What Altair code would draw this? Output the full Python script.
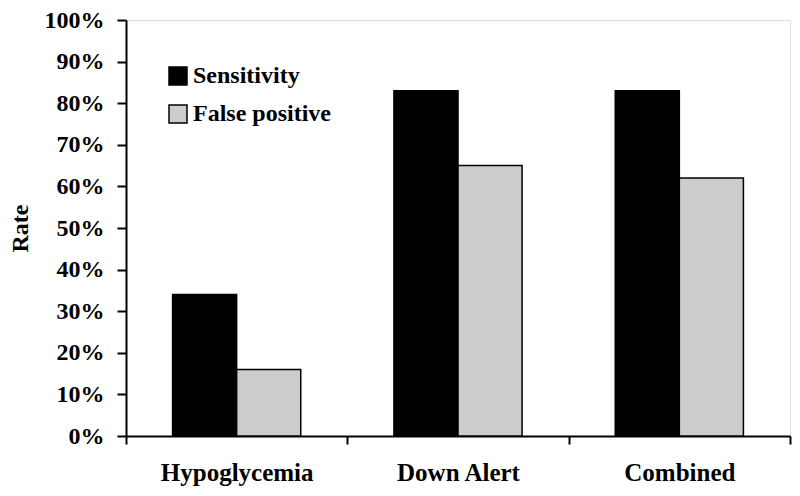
import altair as alt
import pandas as pd

categories = ["Hypoglycemia", "Down Alert", "Combined"]
series = ["Sensitivity", "False positive"]
sensitivity = [0.34, 0.83, 0.83]
false_positive = [0.16, 0.65, 0.62]

rows = []
for c, s, f in zip(categories, sensitivity, false_positive):
    rows.append({"category": c, "series": series[0], "rate": s})
    rows.append({"category": c, "series": series[1], "rate": f})
df = pd.DataFrame(rows)

FONT = "Liberation Serif"

chart = alt.Chart(df).mark_bar(stroke="black", strokeWidth=1.5).encode(
    x=alt.X("category:N", sort=categories, title=None,
            scale=alt.Scale(paddingInner=0, paddingOuter=0),
            axis=alt.Axis(labelAngle=0, tickBand="extent", tickSize=8, tickWidth=2,
                          domainWidth=2, domainColor="black", tickColor="black",
                          labelFont=FONT, labelFontWeight="bold", labelFontSize=25,
                          labelColor="black", labelPadding=16)),
    xOffset=alt.XOffset("series:N", sort=series,
                        scale=alt.Scale(paddingInner=0, paddingOuter=0.727)),
    y=alt.Y("rate:Q", title="Rate",
            scale=alt.Scale(domain=[0, 1], nice=False),
            axis=alt.Axis(format=".0%", values=[i / 10 for i in range(11)], grid=False,
                          tickSize=9, tickWidth=2, domainWidth=2, domainColor="black",
                          tickColor="black", labelFont=FONT, labelFontWeight="bold",
                          labelFontSize=24, labelColor="black", labelPadding=13,
                          titleFont=FONT, titleFontWeight="bold", titleFontSize=24,
                          titleColor="black", titleX=-94, titleY=208)),
    color=alt.Color("series:N", sort=series,
                    scale=alt.Scale(domain=series, range=["#000000", "#cccccc"]),
                    legend=alt.Legend(title=None, orient="none", legendX=40, legendY=44,
                                      symbolType="square", symbolSize=324,
                                      symbolStrokeColor="black", symbolStrokeWidth=1.5,
                                      labelFont=FONT, labelFontWeight="bold",
                                      labelFontSize=24, labelColor="black",
                                      rowPadding=14, labelOffset=3)),
).properties(
    width=664, height=416,
    autosize=alt.AutoSizeParams(type="none"),
    padding={"left": 118, "top": 12, "right": 2, "bottom": 60},
).configure_view(stroke=None).configure(background="white")

chart.save("out.html", embed_options={"renderer": "svg", "actions": False})
